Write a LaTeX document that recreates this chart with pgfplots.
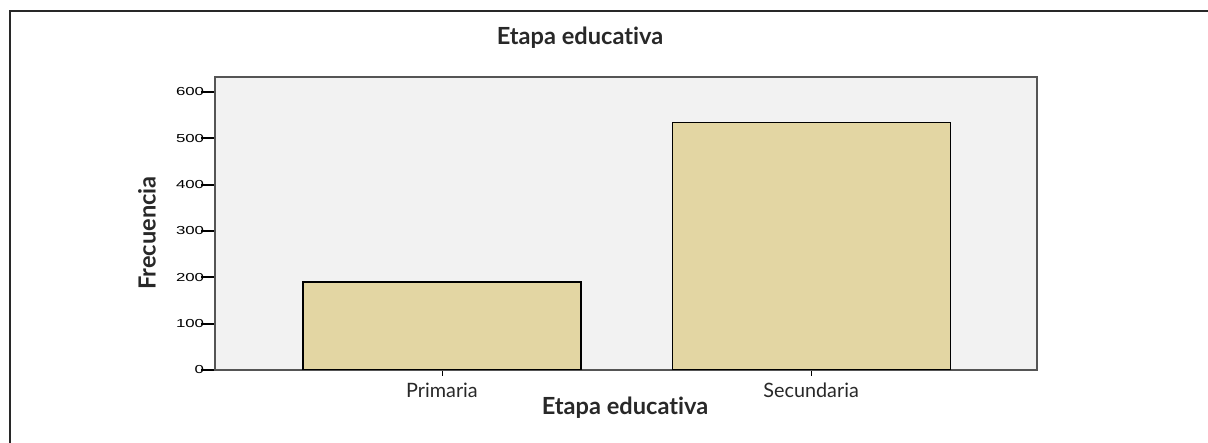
\documentclass[border=0pt]{standalone}
\usepackage{fontspec}
\usepackage{pgfplots}
\pgfplotsset{compat=1.18}
\setmainfont{Lato}[Ligatures=NoCommon]
\newfontfamily\tickfont[FakeStretch=1.45]{Liberation Sans}
\definecolor{barfill}{RGB}{227,214,163}
\definecolor{panel}{RGB}{242,242,242}
\definecolor{frame}{RGB}{85,85,85}
\definecolor{txt}{RGB}{40,40,40}
\begin{document}
% 1 px of the reference = 0.5pt; origin at the lower left corner of the plot area
\begin{tikzpicture}[x=0.5pt,y=0.5pt]
\useasboundingbox (-215,-73) rectangle (993,370);
\draw[line width=1pt,color=txt] (993,358.5) -- (-204.5,358.5) -- (-204.5,-73);
\begin{axis}[
    at={(0,0)}, anchor=south west,
    scale only axis,
    width=411pt, height=146.5pt,
    ybar, bar width=139pt,
    xmin=-0.615, xmax=1.612,
    ymin=0, ymax=632,
    xtick={0,1}, xticklabels={Primaria,Secundaria},
    ytick={0,100,...,600},
    tick pos=left,
    tick align=outside,
    axis line style={frame, line width=0.75pt},
    axis background/.style={fill=panel},
    xtick style={/pgfplots/major tick length=3pt, line width=0.5pt, black},
    ytick style={/pgfplots/major tick length=7pt, line width=1pt, black},
    /pgf/number format/assume math mode=true,
    yticklabel style={font=\tickfont\fontsize{5.8}{7}\selectfont, inner sep=1pt},
    xticklabel style={font=\fontsize{9.9}{11}\selectfont, color=txt, inner sep=0pt, anchor=north, yshift=-2pt},
]
\addplot[fill=barfill, draw=black, line width=0.6pt] coordinates {(0,190) (1,533)};
\end{axis}
\node[anchor=base, font=\bfseries\fontsize{11.8}{13}\selectfont, color=txt] at (365,325) {Etapa educativa};
\node[anchor=base, font=\bfseries\fontsize{11.8}{13}\selectfont, color=txt] at (410,-45) {Etapa educativa};
\node[rotate=90, font=\bfseries\fontsize{11.8}{13}\selectfont, color=txt] at (-68,137) {Frecuencia};
\end{tikzpicture}
\end{document}
